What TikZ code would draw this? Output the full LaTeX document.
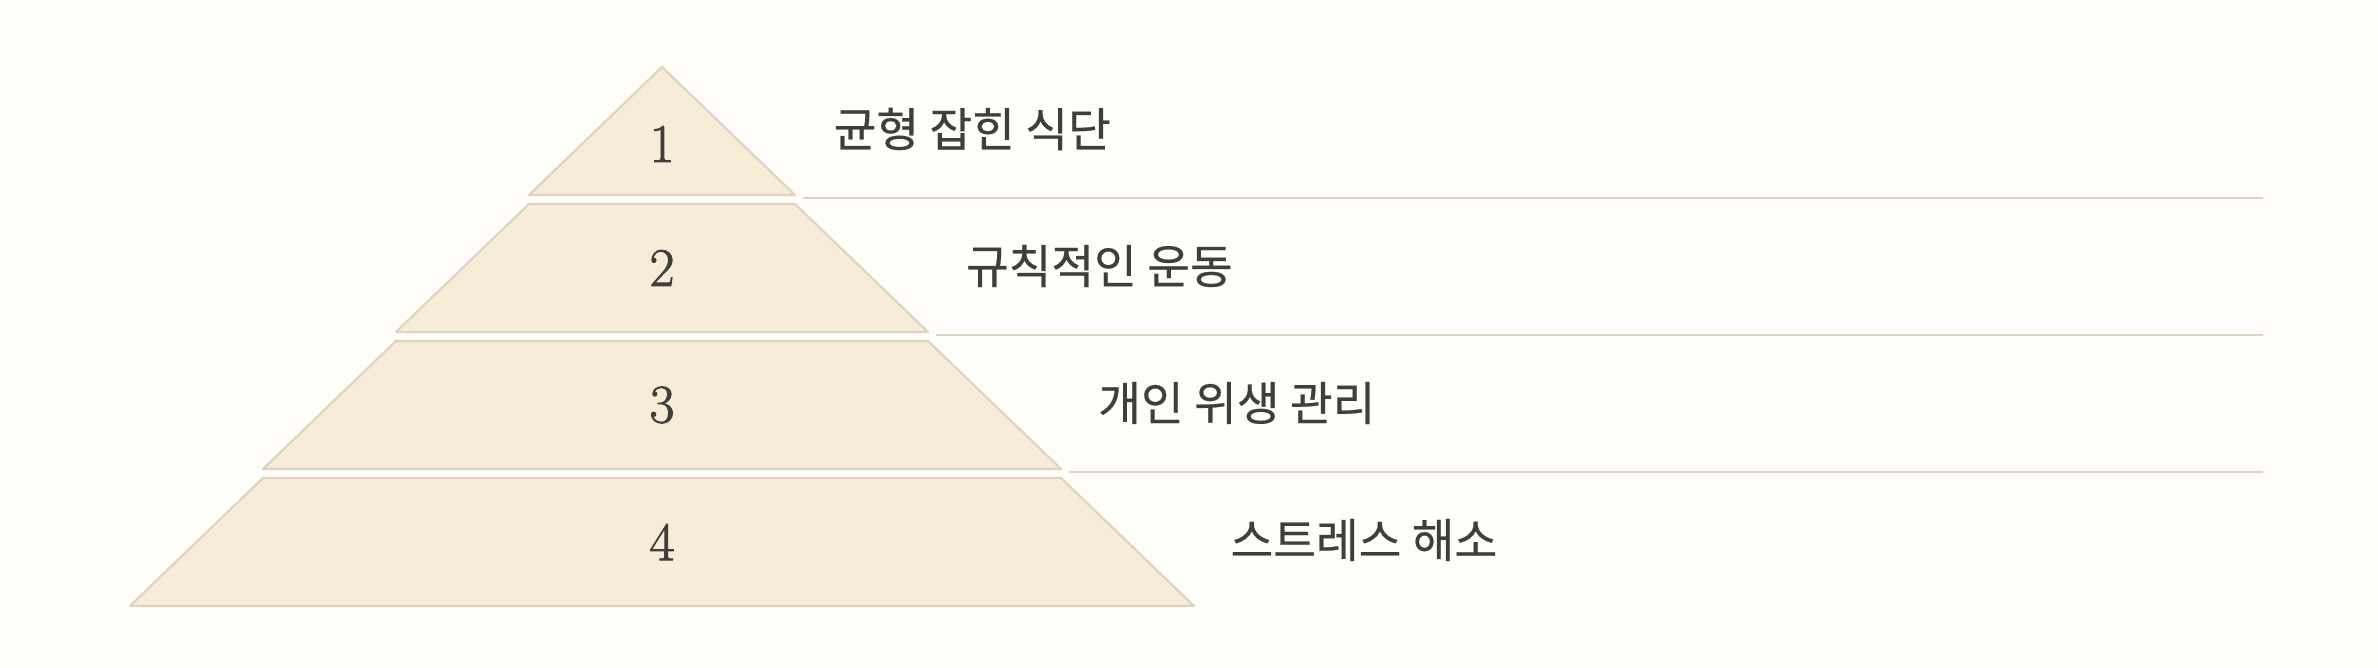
\documentclass[tikz,border=0pt]{standalone}
\usepackage{fontspec}
\newfontfamily\kofont[FakeBold=0.5]{Noto Sans CJK KR}
\newfontfamily\numfont[FakeBold=1.5]{Latin Modern Roman}
\usetikzlibrary{positioning}
\definecolor{tierfill}{RGB}{246,236,216}
\definecolor{tierline}{RGB}{221,211,190}
\definecolor{pagebg}{RGB}{254,253,249}
\definecolor{labeltext}{RGB}{64,62,58}
\tikzset{
  tier/.style={fill=tierfill, draw=tierline, line width=0.6pt, line join=round},
  rule/.style={draw=tierline, line width=0.6pt},
  tiernum/.style={font=\numfont\fontsize{15.5}{18}\selectfont, text=labeltext, inner sep=0pt},
  tierlabel/.style={font=\kofont\fontsize{13.2}{16}\selectfont, text=labeltext, anchor=west, inner sep=0pt}
}

\begin{document}
\begin{tikzpicture}[x=0.01cm, y=-0.01cm]
			    		\fill[pagebg] (0,0) rectangle (2378,668);
			    		\useasboundingbox (0,0) rectangle (2378,668);
			    		\foreach \i/\txt in {1/균형 잡힌 식단, 2/규칙적인 운동, 3/개인 위생 관리, 4/스트레스 해소} {
			    			\pgfmathsetmacro\ytop{67+(\i-1)*137}
			    			\pgfmathsetmacro\ybot{\ytop+128}
			    			\pgfmathsetmacro\wtop{(\i-1)*133}
			    			\pgfmathsetmacro\wbot{\i*133}
			    			\pgfmathsetmacro\ynum{\i==1 ? 144 : (\ytop+\ybot)/2}
			    			\draw[tier] (662-\wtop,\ytop) -- (662+\wtop,\ytop) -- (662+\wbot,\ybot) -- (662-\wbot,\ybot) -- cycle;
			    			\node[tiernum] (num\i) at (662,\ynum) {\i};
			    			\node[tierlabel] (label\i) at (833+\i*132.3-132.3,\ytop+62) {\txt};
			    			\ifnum\i<4
			    				\coordinate (rulestart\i) at (662+\wbot+8,\ybot+3);
			    				\coordinate (ruleend\i) at (2263,\ybot+3);
			    				\draw[rule] (rulestart\i) -- (ruleend\i);
			    			\fi
			    		}
			    	\end{tikzpicture}
\end{document}
